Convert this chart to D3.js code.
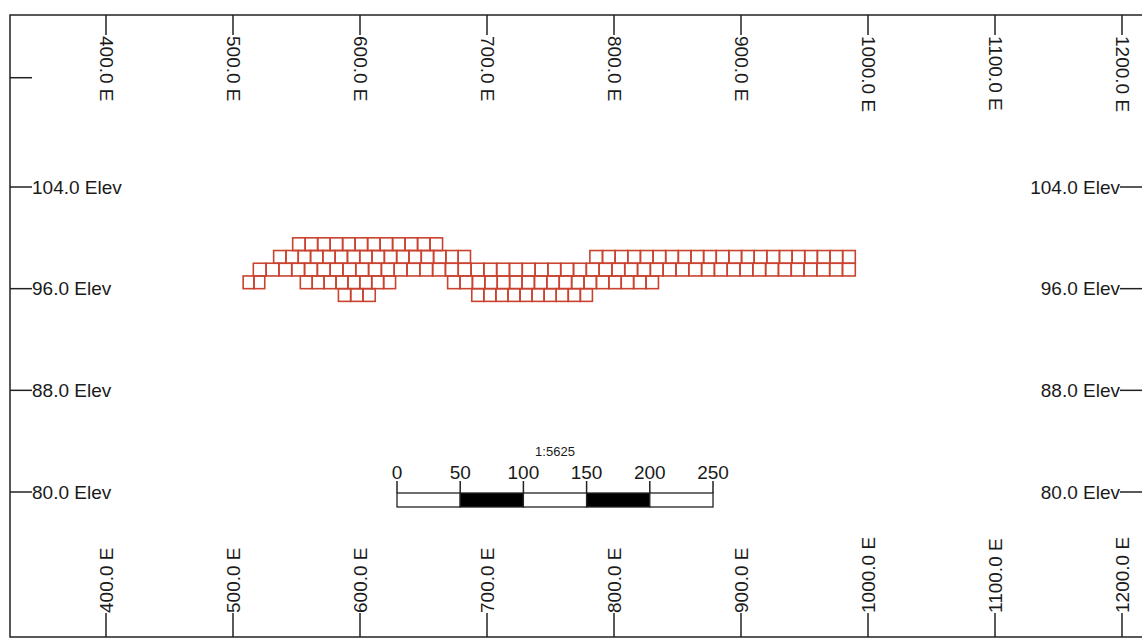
<!DOCTYPE html>
<html>
<head>
<meta charset="utf-8">
<script src="https://cdn.jsdelivr.net/npm/d3@7"></script>
<style>
  body { margin: 0; background: #fff; }
  svg { display: block; font-family: "Liberation Sans", Arial, sans-serif; }
  .frame { fill: none; stroke: #222; stroke-width: 1.5; }
  .tick { stroke: #222; stroke-width: 1.5; }
  .lbl { font-size: 19px; fill: #1a1a1a; }
  .cell { fill: none; stroke: #c9432f; stroke-width: 1.6; }
</style>
</head>
<body>
<div id="chart"></div>
<script>
var width = 1142;
var height = 639;

// section axes
var eastTicks = [400, 500, 600, 700, 800, 900, 1000, 1100, 1200];
var elevTicks = [104, 96, 88, 80];
var extraElevTicks = [112.6]; // unlabeled tick top-left

// block runs: [elevation bottom, east start, east end]
var blockElev  = [99, 98, 98, 97, 96, 96, 96, 95, 95];
var blockStart = [547, 532, 781, 516, 508, 553, 669, 583, 688];
var blockEnd   = [665, 687, 990, 990, 525, 628, 835, 612, 783];
var blockSize = 10;

// scale bar
var scaleLabels = [0, 50, 100, 150, 200, 250];
var scaleText = "1:5625";

var svg = d3.select("#chart").append("svg")
  .attr("width", width)
  .attr("height", height);

var x = d3.scaleLinear().domain([400, 1200]).range([106, 1122]);
var y = d3.scaleLinear().domain([80, 104]).range([492, 187]);

var fLeft = 10, fRight = 1143, fTop = 15, fBottom = 637;

svg.append("rect").attr("class", "frame")
  .attr("x", fLeft).attr("y", fTop)
  .attr("width", fRight - fLeft).attr("height", fBottom - fTop);

// top ticks + labels
var topG = svg.append("g");
topG.selectAll("line").data(eastTicks).enter().append("line")
  .attr("class", "tick")
  .attr("x1", function(d) { return x(d); }).attr("x2", function(d) { return x(d); })
  .attr("y1", fTop).attr("y2", fTop + 20);
topG.selectAll("text").data(eastTicks).enter().append("text")
  .attr("class", "lbl")
  .attr("x", function(d) { return x(d); }).attr("y", fTop + 21)
  .attr("transform", function(d) { return "rotate(90," + x(d) + "," + (fTop + 21) + ")"; })
  .attr("dominant-baseline", "central")
  .text(function(d) { return d.toFixed(1) + " E"; });

// bottom ticks + labels
var botG = svg.append("g");
botG.selectAll("line").data(eastTicks).enter().append("line")
  .attr("class", "tick")
  .attr("x1", function(d) { return x(d); }).attr("x2", function(d) { return x(d); })
  .attr("y1", fBottom - 24).attr("y2", fBottom);
botG.selectAll("text").data(eastTicks).enter().append("text")
  .attr("class", "lbl")
  .attr("x", function(d) { return x(d); }).attr("y", fBottom - 24)
  .attr("transform", function(d) { return "rotate(-90," + x(d) + "," + (fBottom - 24) + ")"; })
  .attr("dominant-baseline", "central")
  .text(function(d) { return d.toFixed(1) + " E"; });

// left + right elevation ticks
var elevG = svg.append("g");
elevG.selectAll("line.l").data(elevTicks.concat(extraElevTicks)).enter().append("line")
  .attr("class", "tick l")
  .attr("x1", fLeft).attr("x2", fLeft + 22)
  .attr("y1", function(d) { return y(d); }).attr("y2", function(d) { return y(d); });
elevG.selectAll("text.l").data(elevTicks).enter().append("text")
  .attr("class", "lbl l")
  .attr("x", fLeft + 22).attr("y", function(d) { return y(d); })
  .attr("dominant-baseline", "central")
  .text(function(d) { return d.toFixed(1) + " Elev"; });
elevG.selectAll("line.r").data(elevTicks).enter().append("line")
  .attr("class", "tick r")
  .attr("x1", 1120).attr("x2", fRight)
  .attr("y1", function(d) { return y(d); }).attr("y2", function(d) { return y(d); });
elevG.selectAll("text.r").data(elevTicks).enter().append("text")
  .attr("class", "lbl r")
  .attr("x", 1120).attr("y", function(d) { return y(d); })
  .attr("text-anchor", "end")
  .attr("dominant-baseline", "central")
  .text(function(d) { return d.toFixed(1) + " Elev"; });

// block cells
var cells = [];
blockElev.forEach(function(el, i) {
  var e0 = blockStart[i], e1 = blockEnd[i];
  var n = Math.max(1, Math.round((e1 - e0) / blockSize));
  var w = (e1 - e0) / n;
  for (var k = 0; k < n; k++) {
    cells.push({e: e0 + k * w, w: w, elev: el});
  }
});
svg.append("g").selectAll("rect").data(cells).enter().append("rect")
  .attr("class", "cell")
  .attr("x", function(d) { return x(d.e); })
  .attr("y", function(d) { return y(d.elev + 1); })
  .attr("width", function(d) { return x(d.e + d.w) - x(d.e); })
  .attr("height", function(d) { return y(d.elev) - y(d.elev + 1); });

// scale bar
var sx = d3.scaleLinear().domain([0, 250]).range([397, 713]);
var barTop = 493, barBot = 507;
var sb = svg.append("g");
sb.append("text")
  .attr("x", sx(125)).attr("y", 456)
  .attr("text-anchor", "middle")
  .style("font-size", "13px").style("fill", "#1a1a1a")
  .text(scaleText);
sb.selectAll("rect.seg").data(d3.pairs(scaleLabels)).enter().append("rect")
  .attr("class", "seg")
  .attr("x", function(d) { return sx(d[0]); })
  .attr("y", barTop)
  .attr("width", function(d) { return sx(d[1]) - sx(d[0]); })
  .attr("height", barBot - barTop)
  .attr("fill", function(d, i) { return i % 2 ? "#000" : "#fff"; })
  .attr("stroke", "#222").attr("stroke-width", 1.3);
sb.selectAll("line").data(scaleLabels).enter().append("line")
  .attr("class", "tick")
  .attr("x1", function(d) { return sx(d); }).attr("x2", function(d) { return sx(d); })
  .attr("y1", 481).attr("y2", barTop);
sb.selectAll("text.sl").data(scaleLabels).enter().append("text")
  .attr("class", "lbl sl")
  .attr("x", function(d) { return sx(d); }).attr("y", 479)
  .attr("text-anchor", "middle")
  .text(function(d) { return d; });
</script>
</body>
</html>
